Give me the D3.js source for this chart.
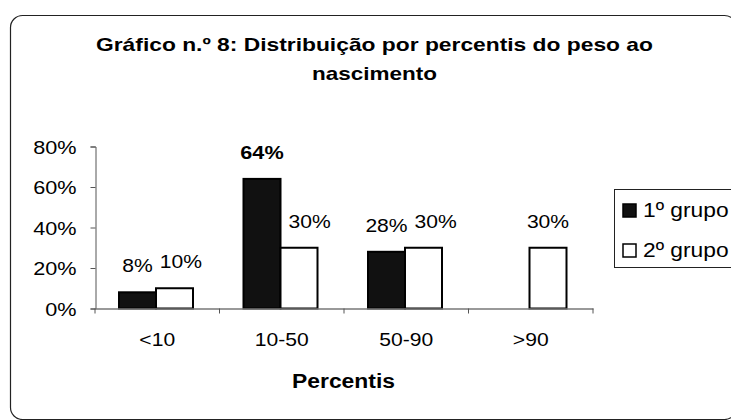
<!DOCTYPE html>
<html>
<head>
<meta charset="utf-8">
<script src="https://cdn.jsdelivr.net/npm/d3@7/dist/d3.min.js"></script>
<style>
  html, body { margin: 0; padding: 0; background: #fff; }
  svg { display: block; }
  text { font-family: "Liberation Sans", Arial, sans-serif; fill: #000; }
</style>
</head>
<body>
<svg id="chart" width="731" height="420"></svg>
<script>
// ---- data ----
const categories = ["<10", "10-50", "50-90", ">90"];
const grupo1 = [8, 64, 28, 0];
const grupo2 = [10, 30, 30, 30];
const seriesNames = ["1º grupo", "2º grupo"];
const yTickValues = [0, 20, 40, 60, 80];
const titleLines = ["Gráfico n.º 8: Distribuição por percentis do peso ao", "nascimento"];
const xAxisTitle = "Percentis";

const series = [
  { name: seriesNames[0], values: grupo1, fill: "#111" },
  { name: seriesNames[1], values: grupo2, fill: "#fff" }
];

const svg = d3.select("#chart");
const STRETCH = 1.14;
function stretch(sel) {
  sel.each(function () {
    const w = this.getComputedTextLength();
    d3.select(this).attr("textLength", w * STRETCH).attr("lengthAdjust", "spacingAndGlyphs");
  });
}

// outer frame
svg.append("rect")
  .attr("x", 10.5).attr("y", 15.5)
  .attr("width", 726).attr("height", 404)
  .attr("rx", 12).attr("ry", 12)
  .attr("fill", "none").attr("stroke", "#222").attr("stroke-width", 1.2);

// title
const titleWidths = [557, 125];
const titleBaselines = [50.5, 80];
svg.selectAll("text.title").data(titleLines).join("text")
  .attr("class", "title")
  .attr("x", 374.5)
  .attr("y", (d, i) => titleBaselines[i])
  .attr("text-anchor", "middle")
  .attr("font-weight", "bold")
  .attr("font-size", 19)
  .attr("textLength", (d, i) => titleWidths[i])
  .attr("lengthAdjust", "spacingAndGlyphs")
  .text(d => d);

// scales
const x = d3.scaleBand().domain(categories).range([95, 593]).paddingInner(0).paddingOuter(0);
const xInner = d3.scaleBand().domain([0, 1]).range([24, 98]);
const y = d3.scaleLinear().domain([0, 80]).range([308.5, 146.5]);

// y axis
const yAxis = d3.axisLeft(y).tickValues(yTickValues).tickFormat(d => d + "%").tickSize(5).tickPadding(14);
const gy = svg.append("g").attr("transform", "translate(95.5,0)").call(yAxis);
gy.select(".domain").attr("stroke", "#555");
gy.selectAll(".tick line").attr("stroke", "#555");
gy.selectAll(".tick text").attr("font-size", 19).attr("dy", "0.36em")
  .style("font-family", "'Liberation Sans', Arial, sans-serif").call(stretch);

// bars
const barData = [];
series.forEach((s, si) => s.values.forEach((v, i) => { if (v > 0) barData.push({ v, i, si, fill: s.fill }); }));
svg.append("g").selectAll("rect").data(barData).join("rect")
  .attr("x", d => x(categories[d.i]) + xInner(d.si))
  .attr("y", d => y(d.v))
  .attr("width", xInner.bandwidth())
  .attr("height", d => y(0) - y(d.v))
  .attr("fill", d => d.fill)
  .attr("stroke", "#000")
  .attr("stroke-width", 2);

// x axis
const xAxis = d3.axisBottom(x).tickValues([]).tickSizeOuter(0);
const gx = svg.append("g").attr("transform", "translate(0,308.5)").call(xAxis);
gx.select(".domain").attr("stroke", "#777").attr("stroke-width", 1.5);
const boundaries = [x(categories[0])].concat(categories.map(c => x(c) + x.bandwidth()));
gx.selectAll("line.bt").data(boundaries).join("line")
  .attr("class", "bt")
  .attr("x1", d => d).attr("x2", d => d)
  .attr("y1", 0).attr("y2", 5)
  .attr("stroke", "#555");

// category labels
svg.selectAll("text.cat").data(categories).join("text")
  .attr("class", "cat")
  .attr("x", d => x(d) + x.bandwidth() / 2)
  .attr("y", 346)
  .attr("text-anchor", "middle")
  .attr("font-size", 18.5)
  .text(d => d)
  .call(stretch);

// value labels
const maxVal = d3.max(barData, d => d.v);
const vals = svg.selectAll("text.val").data(barData).join("text")
  .attr("class", "val")
  .attr("x", d => x(categories[d.i]) + xInner(d.si) + xInner.bandwidth() / 2)
  .attr("y", d => y(d.v) - 20)
  .attr("text-anchor", "middle")
  .attr("font-size", d => d.v === maxVal ? 19 : 18.5)
  .attr("font-weight", d => d.v === maxVal ? "bold" : "normal")
  .text(d => d.v + "%")
  .call(stretch);

// simple collision avoidance: push second-series label right if it overlaps
// the first-series label or the first-series bar of the same category
const GAP = 7;
categories.forEach((c, i) => {
  const a = vals.filter(d => d.i === i && d.si === 0).node();
  const b = vals.filter(d => d.i === i && d.si === 1).node();
  if (!a || !b) return;
  const ba = a.getBBox(), bb = b.getBBox();
  let minLeft = -Infinity;
  const vOverlap = !(bb.y > ba.y + ba.height || ba.y > bb.y + bb.height);
  if (vOverlap) minLeft = ba.x + ba.width + GAP;
  const d0 = d3.select(a).datum();
  const barTop = y(d0.v), barRight = x(categories[i]) + xInner(0) + xInner.bandwidth() + 1;
  if (barTop < bb.y + bb.height) minLeft = Math.max(minLeft, barRight + GAP);
  if (bb.x < minLeft) {
    d3.select(b).attr("x", +d3.select(b).attr("x") + (minLeft - bb.x));
  }
});

// x axis title
svg.append("text")
  .attr("x", 343.5).attr("y", 388)
  .attr("text-anchor", "middle")
  .attr("font-weight", "bold")
  .attr("font-size", 20)
  .attr("textLength", 103)
  .attr("lengthAdjust", "spacingAndGlyphs")
  .text(xAxisTitle);

// legend
const legend = svg.append("g");
legend.append("rect")
  .attr("x", 614.5).attr("y", 189.5)
  .attr("width", 130).attr("height", 78)
  .attr("fill", "#fff").attr("stroke", "#222").attr("stroke-width", 1);
const li = legend.selectAll("g.item").data(series).join("g").attr("class", "item")
  .attr("transform", (d, i) => `translate(0,${i * 40})`);
li.append("rect")
  .attr("x", 623).attr("y", 204)
  .attr("width", 13).attr("height", 13)
  .attr("fill", d => d.fill).attr("stroke", "#000").attr("stroke-width", 1.5);
li.append("text")
  .attr("x", 643).attr("y", 216.5)
  .attr("font-size", 20)
  .text(d => d.name)
  .call(stretch);
</script>
</body>
</html>
